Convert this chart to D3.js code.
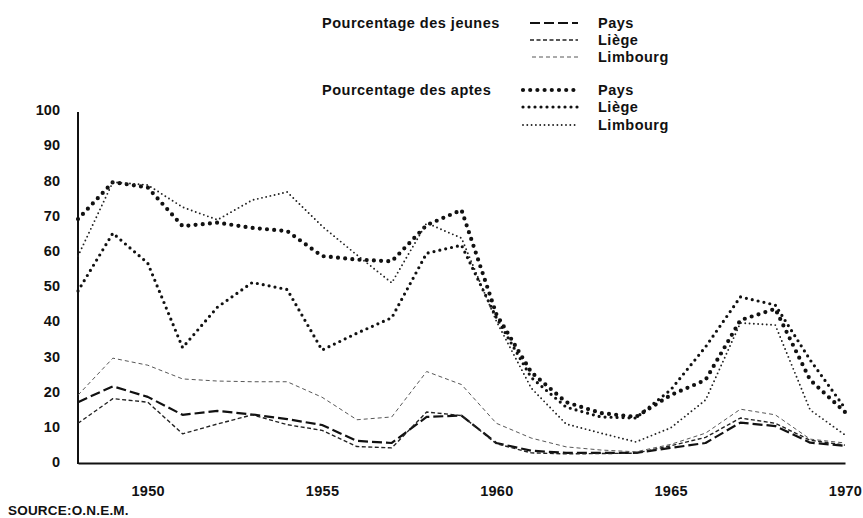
<!DOCTYPE html>
<html><head><meta charset="utf-8">
<script src="https://cdn.jsdelivr.net/npm/d3@7"></script>
<style>
body{margin:0;background:#fff;}
svg text{font-family:"Liberation Sans",Arial,Helvetica,sans-serif;font-weight:bold;fill:#111;}
</style></head>
<body><svg id="c" width="863" height="518"></svg>
<script>
const years = d3.range(1948, 1971);
const xTicks = [1950, 1955, 1960, 1965, 1970];
const yTicks = [0,10,20,30,40,50,60,70,80,90,100];

// Pourcentage des jeunes
const jeunesPays     = [17,21.5,18.5,13.4,14.5,13.5,12.2,10.5,6,5.4,12.8,13.2,5.4,3.2,2.6,2.6,2.6,4,5.4,11.2,10.2,5.5,4.6];
const jeunesLiege    = [11,18,17,8,10.8,13.4,10.6,9,4.4,4,14.2,13.2,5.2,2.6,2.3,2.4,2.5,4.6,7,12.5,11,6.2,4.8];
const jeunesLimbourg = [19,29.5,27.5,23.6,23,22.8,22.8,18.4,12,12.8,25.7,22,11,6.8,4.3,3.4,2.9,5,8.2,15,13.4,6.5,5.4];

// Pourcentage des aptes
const aptesPays      = [69,79.5,78,67,68,66.5,65.6,58.5,57.5,57,67.3,71.6,42,25.5,17,13.9,12.8,19,23.3,40.3,43.5,23.3,14.2];
const aptesLiege     = [48.6,65,56.5,32.5,44,51,49,31.8,36.6,41,59.3,61.6,41,24,15.6,12.8,12.5,20.5,32.7,46.9,44.6,29,15.3];
const aptesLimbourg  = [58.5,79.5,78.7,72.4,68.8,74.4,76.7,67,58.8,50.9,67.9,63.6,40,21,10.8,8.2,5.7,9.7,17.6,39.5,38.9,14.8,7.7];

const seriesNames = ["Pays","Liège","Limbourg"];
const groupTitles = ["Pourcentage des jeunes","Pourcentage des aptes"];

const styles = [
  {w:2.2, dash:"10,4", cap:"butt", color:"#111"},
  {w:1.4, dash:"4,2.5", cap:"butt", color:"#222"},
  {w:0.9, dash:"4,3", cap:"butt", color:"#444"},
  {w:4.2, dash:"0,7.2", cap:"round", color:"#111"},
  {w:3.2, dash:"0,6", cap:"round", color:"#111"},
  {w:1.9, dash:"0,4.3", cap:"round", color:"#222"}
];

const svg = d3.select("#c");
const x = d3.scaleLinear().domain([1948,1970]).range([78,845]);
const y = d3.scaleLinear().domain([0,100]).range([462,110]);

// axes
const yAxis = svg.append("g").attr("transform","translate(78,0)")
  .call(d3.axisLeft(y).tickValues(yTicks).tickSize(0).tickPadding(18).tickSizeOuter(0));
yAxis.select(".domain").attr("stroke","#111").attr("stroke-width",2).attr("d","M0,464V112");
yAxis.selectAll("text").style("font-size","14.5px").attr("dy","0.33em");

const xAxis = svg.append("g").attr("transform","translate(0,463)")
  .call(d3.axisBottom(x).tickValues(xTicks).tickFormat(d3.format("d")).tickSize(0).tickPadding(23).tickSizeOuter(0));
xAxis.select(".domain").attr("stroke","#111").attr("stroke-width",2);
xAxis.selectAll("text").style("font-size","14.5px").style("letter-spacing","0.3px");

const data = [jeunesPays,jeunesLiege,jeunesLimbourg,aptesPays,aptesLiege,aptesLimbourg];
const line = d3.line().x((d,i)=>x(years[i])).y(d=>y(d));
data.forEach((s,k)=>{
  const st = styles[k];
  svg.append("path").datum(s).attr("d",line).attr("fill","none")
    .attr("stroke",st.color).attr("stroke-width",st.w)
    .attr("stroke-dasharray",st.dash).attr("stroke-linecap",st.cap)
    .attr("stroke-linejoin","round");
});

// legend
const legY = [[23,40,57],[90,107,125]];
const legX0 = [[530,530,532],[523,523,523]];
groupTitles.forEach((t,g)=>{
  svg.append("text").attr("x",322).attr("y",legY[g][0]).attr("dy","0.35em")
    .style("font-size","14.5px").style("letter-spacing","0.5px").text(t);
  seriesNames.forEach((n,i)=>{
    const st = styles[g*3+i];
    svg.append("line").attr("x1",legX0[g][i]).attr("x2",578)
      .attr("y1",legY[g][i]).attr("y2",legY[g][i])
      .attr("stroke",st.color).attr("stroke-width",st.w)
      .attr("stroke-dasharray",st.dash).attr("stroke-linecap",st.cap);
    svg.append("text").attr("x",598).attr("y",legY[g][i]).attr("dy","0.35em")
      .style("font-size","14.5px").style("letter-spacing","0.5px").text(n);
  });
});

svg.append("text").attr("x",8).attr("y",510).attr("dy","0.35em")
  .style("font-size","13.5px").style("letter-spacing","0.2px").text("SOURCE:O.N.E.M.");
</script></body></html>
